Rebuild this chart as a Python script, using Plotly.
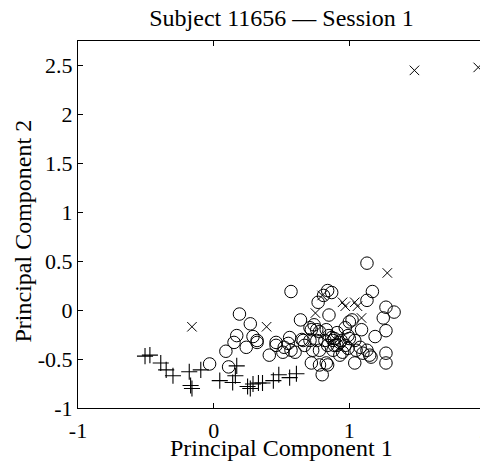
import plotly.graph_objects as go

# Circles (class A)
circ_x = [0.19, 0.27, 0.17, 0.15, 0.09, 0.24, 0.29, 0.32, 0.41, 0.46, -0.03, 0.11,
          1.13, 0.57, 0.87, 0.81, 0.77, 1.17, 1.13, 1.27, 1.33, 1.25, 0.64, 0.85,
          1.00, 1.27, 1.19, 1.09, 0.71, 0.76, 0.52, 0.56, 0.57, 0.60, 0.65, 0.73,
          0.78, 0.87, 0.89, 0.93, 0.95, 0.99, 1.04, 1.05, 1.04, 1.13, 1.15, 1.27,
          1.27, 0.72, 0.78, 0.84, 0.80, 0.74, 0.78, 0.82, 0.84, 0.88, 0.91, 0.97,
          0.84, 1.02, 1.08, 1.16, 0.93, 0.83, 0.66, 0.99, 0.88, 0.76, 1.10, 0.32,
          0.46, 0.85, 0.89, 0.91, 0.94, 0.83, 0.71, 0.67, 0.97, 1.00, 0.72, 0.55, 0.51]
circ_y = [-0.04, -0.14, -0.26, -0.33, -0.42, -0.38, -0.27, -0.31, -0.46, -0.36, -0.55, -0.58,
          0.48, 0.19, 0.18, 0.15, 0.08, 0.19, 0.10, 0.03, -0.02, -0.08, -0.10, -0.05,
          -0.12, -0.21, -0.27, -0.20, -0.18, -0.20, -0.38, -0.28, -0.41, -0.43, -0.30, -0.41,
          -0.41, -0.28, -0.36, -0.33, -0.43, -0.26, -0.31, -0.41, -0.54, -0.41, -0.46, -0.44,
          -0.54, -0.54, -0.56, -0.56, -0.66, -0.15, -0.22, -0.31, -0.36, -0.31, -0.23, -0.18,
          0.20, -0.10, -0.38, -0.48, -0.46, -0.54, -0.31, -0.39, -0.41, -0.31, -0.44, -0.33,
          -0.33, -0.26, -0.29, -0.36, -0.31, -0.20, -0.31, -0.36, -0.36, -0.29, -0.20, -0.34, -0.43]

# Crosses x (class B)
xm_x = [1.48, 1.95, -0.16, 0.39, 1.28, 0.80, 0.95, 0.97, 1.04, 1.06, 1.09, 0.75]
xm_y = [2.45, 2.48, -0.17, -0.17, 0.38, 0.15, 0.08, 0.04, 0.08, 0.04, -0.08, -0.03]

# Plus (class C)
plus_x = [-0.506, -0.47, -0.39, -0.35, -0.30, -0.18, -0.095, -0.17, -0.16, 0.045, 0.14,
          0.17, 0.16, 0.25, 0.27, 0.29, 0.33, 0.36, 0.44, 0.48, 0.56, 0.61]
plus_y = [-0.47, -0.46, -0.54, -0.61, -0.67, -0.63, -0.61, -0.77, -0.80, -0.72, -0.74,
          -0.57, -0.67, -0.78, -0.80, -0.755, -0.745, -0.745, -0.72, -0.66, -0.69, -0.65]

x_ticks = [-1, 0, 1, 2]
y_ticks = [-1, -0.5, 0, 0.5, 1, 1.5, 2, 2.5]
y_ticktext = ["-1", "-0.5", "0", "0.5", "1", "1.5", "2", "2.5"]

FONT = "Liberation Serif"
# page body adds an 8px offset, so the figure is sized/placed to compensate
W, H = 480, 453
L, R, T, B = 70, 3, 33, 53
PW, PH = W - L - R, H - T - B

fig = go.Figure()
fig.add_trace(go.Scatter(x=circ_x, y=circ_y, mode="markers", cliponaxis=False,
                         marker=dict(symbol="circle-open", size=12.5, color="black",
                                     line=dict(width=1, color="black"))))
fig.add_trace(go.Scatter(x=xm_x, y=xm_y, mode="markers", cliponaxis=False,
                         marker=dict(symbol="x-thin-open", size=9.5, color="black",
                                     line=dict(width=1, color="black"))))
fig.add_trace(go.Scatter(x=plus_x, y=plus_y, mode="markers", cliponaxis=False,
                         marker=dict(symbol="cross-thin-open", size=11.5, color="black",
                                     line=dict(width=1.1, color="black"))))

fig.update_layout(
    width=W, height=H,
    margin=dict(l=L, r=R, t=T, b=B, autoexpand=False),
    paper_bgcolor="white", plot_bgcolor="white",
    showlegend=False,
    font=dict(family=FONT, size=22, color="black"),
    title=dict(text="Subject 11656 — Session 1", x=0.5, xref="paper", xanchor="center",
               y=1 - 10 / H, yref="container", yanchor="middle",
               font=dict(family=FONT, size=24, color="black")),
    annotations=[
        dict(text="Principal Component 1", xref="paper", yref="paper",
             x=0.5, y=-(440 - (H - B)) / PH, xanchor="center", yanchor="middle",
             showarrow=False, font=dict(family=FONT, size=24, color="black")),
        dict(text="Principal Component 2", xref="paper", yref="paper",
             x=-(L - 15) / PW, y=0.5 - 7 / PH, xanchor="center", yanchor="middle",
             textangle=-90, showarrow=False,
             font=dict(family=FONT, size=24, color="black")),
    ],
)
axis_common = dict(showline=True, linecolor="black", linewidth=1, mirror="ticks",
                   ticks="inside", ticklen=5, tickcolor="black", showgrid=False,
                   zeroline=False, automargin=False,
                   tickfont=dict(family=FONT, size=22, color="black"))
fig.update_xaxes(range=[-1, 2], tickvals=x_ticks, ticktext=[str(v) for v in x_ticks],
                 ticklabeloverflow="allow", ticklabelstandoff=3, **axis_common)
fig.update_yaxes(range=[-1, 2.75], tickvals=y_ticks, ticktext=y_ticktext,
                 **axis_common)

fig.write_html("out.html")
